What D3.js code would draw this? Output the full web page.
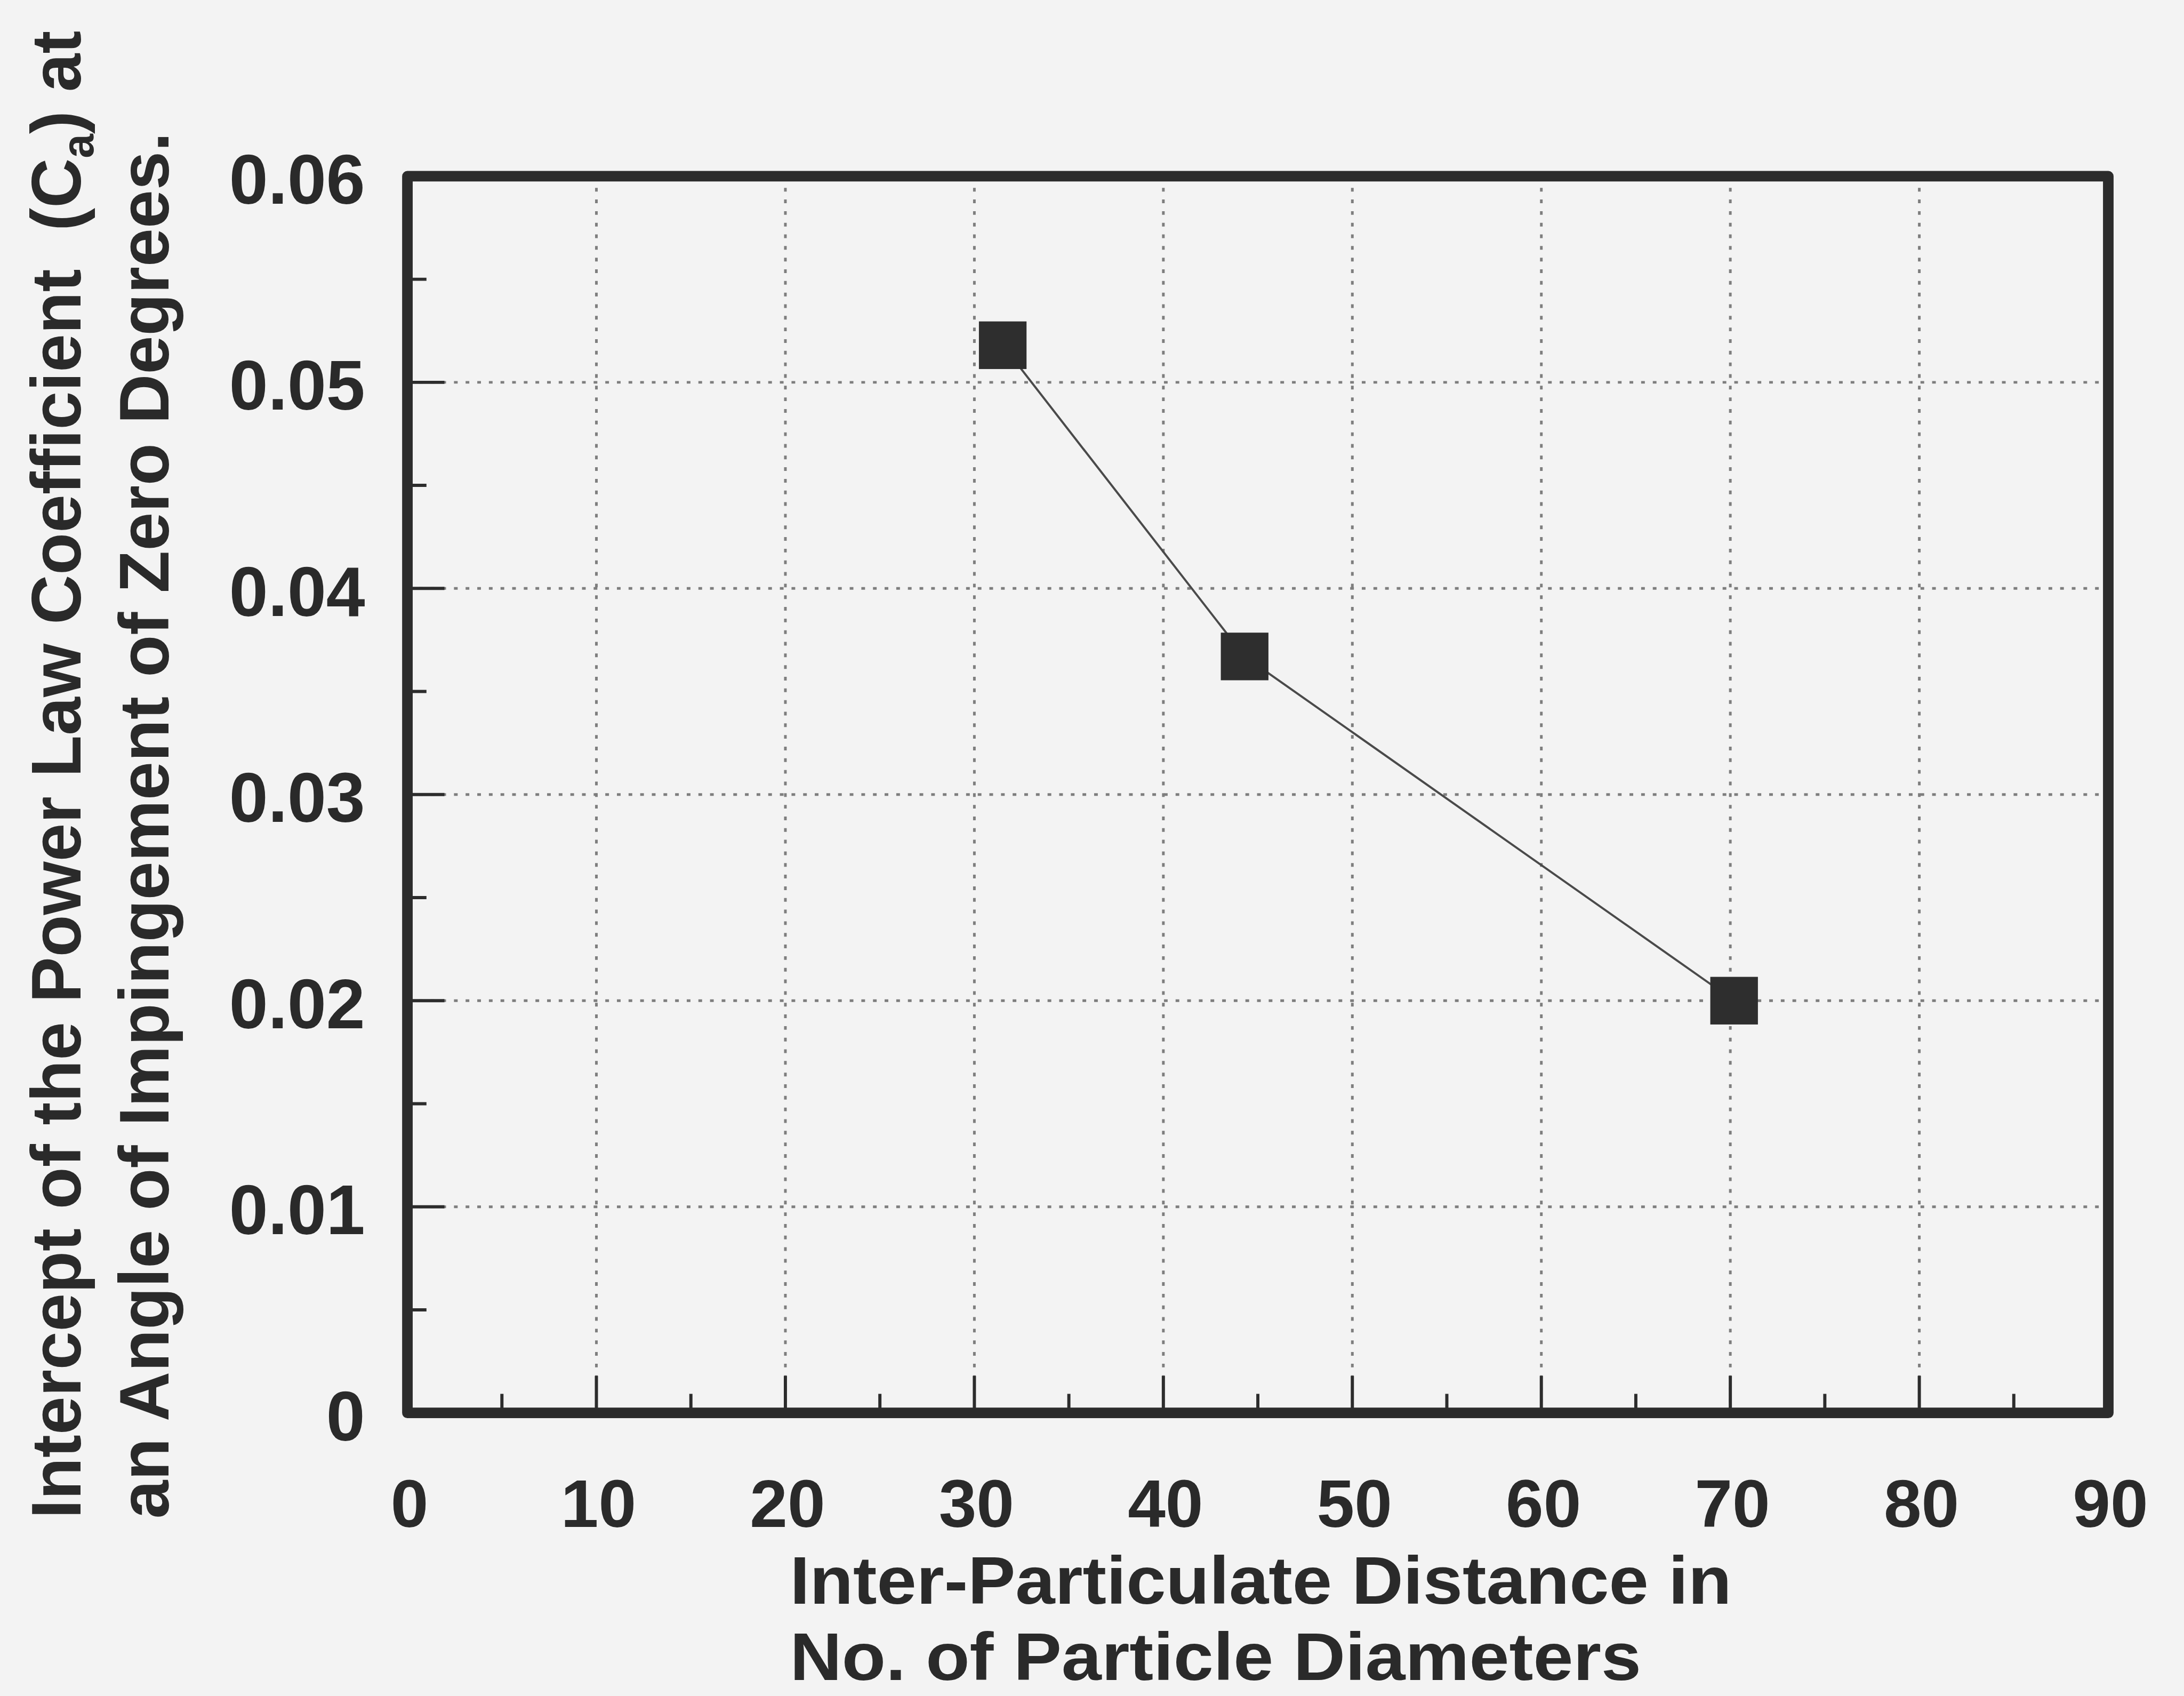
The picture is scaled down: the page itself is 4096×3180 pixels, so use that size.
<!DOCTYPE html>
<html>
<head>
<meta charset="utf-8">
<script src="https://cdn.jsdelivr.net/npm/d3@7"></script>
<style>
  html, body { margin: 0; padding: 0; background: #f3f3f3; overflow: hidden; }
  text { font-family: "Liberation Sans", Arial, sans-serif; font-weight: bold; fill: #2a2a2a; }
</style>
</head>
<body>
<div id="chart"></div>
<script>
// data
const distances = [31.5, 44.3, 70.2];
const coefficients = [0.0518, 0.0367, 0.02];

const xTicks = [0, 10, 20, 30, 40, 50, 60, 70, 80, 90];
const yTicks = [0, 0.01, 0.02, 0.03, 0.04, 0.05, 0.06];
const yTickLabels = ["0", "0.01", "0.02", "0.03", "0.04", "0.05", "0.06"];
const xMinorTicks = [5, 15, 25, 35, 45, 55, 65, 75, 85];
const yMinorTicks = [0.005, 0.015, 0.025, 0.035, 0.045, 0.055];

const xTitleLines = ["Inter-Particulate Distance in", "No. of Particle Diameters"];

// reference size, the svg is scaled down to the window through the viewBox
const refWidth = 4128;
const refHeight = 3205;

const plot = { left: 770, right: 3985, top: 333, bottom: 2670 };
const ink = "#2c2c2c";

const xScale = d3.scaleLinear().domain([0, 90]).range([plot.left, plot.right]);
const yScale = d3.scaleLinear().domain([0, 0.06]).range([plot.bottom, plot.top]);

const svg = d3
  .select("#chart")
  .append("svg")
  .attr("width", 4096)
  .attr("height", 3180)
  .attr("viewBox", `0 0 ${refWidth} ${refHeight}`);

svg
  .append("rect")
  .attr("width", refWidth)
  .attr("height", refHeight)
  .attr("fill", "#f3f3f3");

//dotted grid
const gridStyle = line =>
  line
    .attr("stroke", "#7e7e7e")
    .attr("stroke-width", 5)
    .attr("stroke-dasharray", "7 15");

svg
  .append("g")
  .selectAll("line")
  .data(xTicks.slice(1, -1))
  .join("line")
  .attr("x1", d => xScale(d))
  .attr("x2", d => xScale(d))
  .attr("y1", plot.top)
  .attr("y2", plot.bottom)
  .call(gridStyle);

svg
  .append("g")
  .selectAll("line")
  .data(yTicks.slice(1, -1))
  .join("line")
  .attr("x1", plot.left)
  .attr("x2", plot.right)
  .attr("y1", d => yScale(d))
  .attr("y2", d => yScale(d))
  .call(gridStyle);

//inside ticks, major and minor
const drawXTicks = (values, len) => {
  svg
    .append("g")
    .selectAll("line")
    .data(values)
    .join("line")
    .attr("x1", d => xScale(d))
    .attr("x2", d => xScale(d))
    .attr("y1", plot.bottom)
    .attr("y2", plot.bottom - len)
    .attr("stroke", ink)
    .attr("stroke-width", 6);
};
const drawYTicks = (values, len) => {
  svg
    .append("g")
    .selectAll("line")
    .data(values)
    .join("line")
    .attr("x1", plot.left)
    .attr("x2", plot.left + len)
    .attr("y1", d => yScale(d))
    .attr("y2", d => yScale(d))
    .attr("stroke", ink)
    .attr("stroke-width", 6);
};
drawXTicks(xTicks.slice(1, -1), 70);
drawXTicks(xMinorTicks, 36);
drawYTicks(yTicks.slice(1, -1), 70);
drawYTicks(yMinorTicks, 36);

//series line and square markers
const points = distances.map((d, i) => ({ x: d, y: coefficients[i] }));

const seriesLine = d3
  .line()
  .x(d => xScale(d.x))
  .y(d => yScale(d.y));

svg
  .append("path")
  .datum(points)
  .attr("d", seriesLine)
  .attr("fill", "none")
  .attr("stroke", "#4a4a4a")
  .attr("stroke-width", 4);

const markerSize = 90;
svg
  .append("g")
  .selectAll("rect")
  .data(points)
  .join("rect")
  .attr("x", d => xScale(d.x) - markerSize / 2)
  .attr("y", d => yScale(d.y) - markerSize / 2)
  .attr("width", markerSize)
  .attr("height", markerSize)
  .attr("fill", "#2e2e2e");

//plot frame
svg
  .append("rect")
  .attr("x", plot.left)
  .attr("y", plot.top)
  .attr("width", plot.right - plot.left)
  .attr("height", plot.bottom - plot.top)
  .attr("fill", "none")
  .attr("stroke", ink)
  .attr("stroke-width", 20)
  .attr("stroke-linejoin", "round");

//tick labels
svg
  .append("g")
  .selectAll("text")
  .data(yTicks)
  .join("text")
  .attr("x", 690)
  .attr("y", d => yScale(d) + 52)
  .attr("text-anchor", "end")
  .attr("font-size", 132)
  .text((d, i) => yTickLabels[i]);

svg
  .append("g")
  .selectAll("text")
  .data(xTicks)
  .join("text")
  .attr("x", d => xScale(d) + 4)
  .attr("y", 2886)
  .attr("text-anchor", "middle")
  .attr("font-size", 128)
  .text(d => d);

//x axis title, two left aligned lines
const xTitleWidths = [1780, 1609];
svg
  .append("g")
  .selectAll("text")
  .data(xTitleLines)
  .join("text")
  .attr("x", 1493)
  .attr("y", (d, i) => 3031 + i * 144)
  .attr("font-size", 128)
  .attr("textLength", (d, i) => xTitleWidths[i])
  .attr("lengthAdjust", "spacingAndGlyphs")
  .text(d => d);

//y axis title, rotated
const yTitle = svg
  .append("g")
  .attr("transform", "translate(0, 2870) rotate(-90)");

const yLine1 = yTitle
  .append("text")
  .attr("x", 0)
  .attr("y", 152)
  .attr("font-size", 132)
  .attr("textLength", 2812)
  .attr("lengthAdjust", "spacingAndGlyphs")
  .style("white-space", "pre");
yLine1.append("tspan").text("Intercept of the Power Law Coefficient  (C");
yLine1
  .append("tspan")
  .attr("font-size", 84)
  .attr("dy", 24)
  .text("a");
yLine1
  .append("tspan")
  .attr("dy", -24)
  .text(") at");

yTitle
  .append("text")
  .attr("x", 0)
  .attr("y", 318)
  .attr("font-size", 132)
  .attr("textLength", 2620)
  .attr("lengthAdjust", "spacingAndGlyphs")
  .text("an Angle of Impingement of Zero Degrees.");
</script>
</body>
</html>
